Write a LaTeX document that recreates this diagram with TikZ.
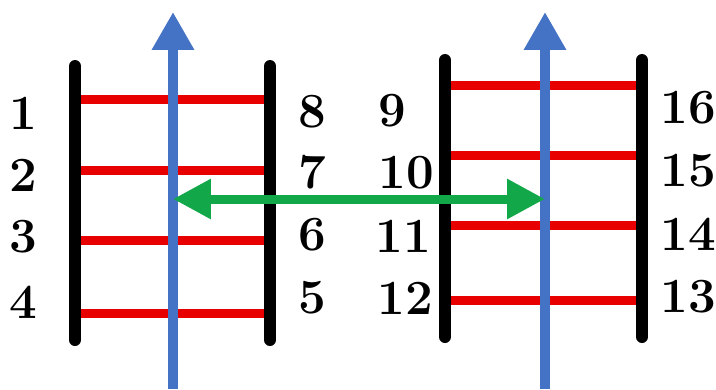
\documentclass[tikz,border=0pt]{standalone}
\usetikzlibrary{arrows.meta, calc}
\definecolor{ldRail}{HTML}{000000}
\definecolor{ldRung}{HTML}{E80000}
\definecolor{ldAxis}{HTML}{4472C4}
\definecolor{ldLink}{HTML}{12A84A}
\tikzset{
  rail/.style={line width=0.24cm, line cap=round, ldRail},
  rung/.style={line width=0.18cm, ldRung},
  axis/.style={-{Triangle[length=0.76cm, width=0.8cm]}, line width=0.2cm, ldAxis},
  link/.style={{Triangle[length=0.76cm, width=0.76cm]}-{Triangle[length=0.76cm, width=0.76cm]},
    line width=0.18cm, ldLink},
  num/.style={font=\fontsize{28}{30}\selectfont\bfseries, inner sep=0pt}
}

\begin{document}
\begin{tikzpicture}[x=0.02cm, y=-0.02cm]
  \useasboundingbox (0,0) rectangle (716,389);
  % left ladder
  \foreach \i/\y in {1/99, 2/170, 3/240, 4/313}{
    \coordinate (la\i) at (75,\y);
    \coordinate (lb\i) at (270,\y);
    \draw[rung] (la\i) -- (lb\i);
  }
  \coordinate (la-top) at (75,66);   \coordinate (la-bot) at (75,340);
  \coordinate (lb-top) at (270,66);  \coordinate (lb-bot) at (270,340);
  \draw[rail] (la-top) -- (la-bot);
  \draw[rail] (lb-top) -- (lb-bot);
  % right ladder
  \foreach \i/\y in {1/85, 2/155, 3/225, 4/300}{
    \coordinate (ra\i) at (445,\y);
    \coordinate (rb\i) at (642,\y);
    \draw[rung] (ra\i) -- (rb\i);
  }
  \coordinate (ra-top) at (445,60);  \coordinate (ra-bot) at (445,337);
  \coordinate (rb-top) at (642,60);  \coordinate (rb-bot) at (642,337);
  \draw[rail] (ra-top) -- (ra-bot);
  \draw[rail] (rb-top) -- (rb-bot);
  % axes
  \coordinate (lx-bot) at (173,389); \coordinate (lx-top) at (173,12);
  \coordinate (rx-bot) at (545,389); \coordinate (rx-top) at (545,12);
  \draw[axis] (lx-bot) -- (lx-top);
  \draw[axis] (rx-bot) -- (rx-top);
  \coordinate (lx-mid) at (173,199);
  \coordinate (rx-mid) at (545,199);
  \draw[link] (lx-mid) -- (rx-mid);
  % labels
  \foreach \n/\x/\y in {1/23/113, 2/23/175, 3/23/237, 4/23/302,
    8/312/112, 7/312/172, 6/312/235, 5/312/298,
    9/392/111, 10/406/173, 11/403/236, 12/405/298,
    16/688/108, 15/688/171, 14/688/234, 13/688/297}{
    \node[num] (n\n) at (\x,\y) {\n};
  }
\end{tikzpicture}
\end{document}
